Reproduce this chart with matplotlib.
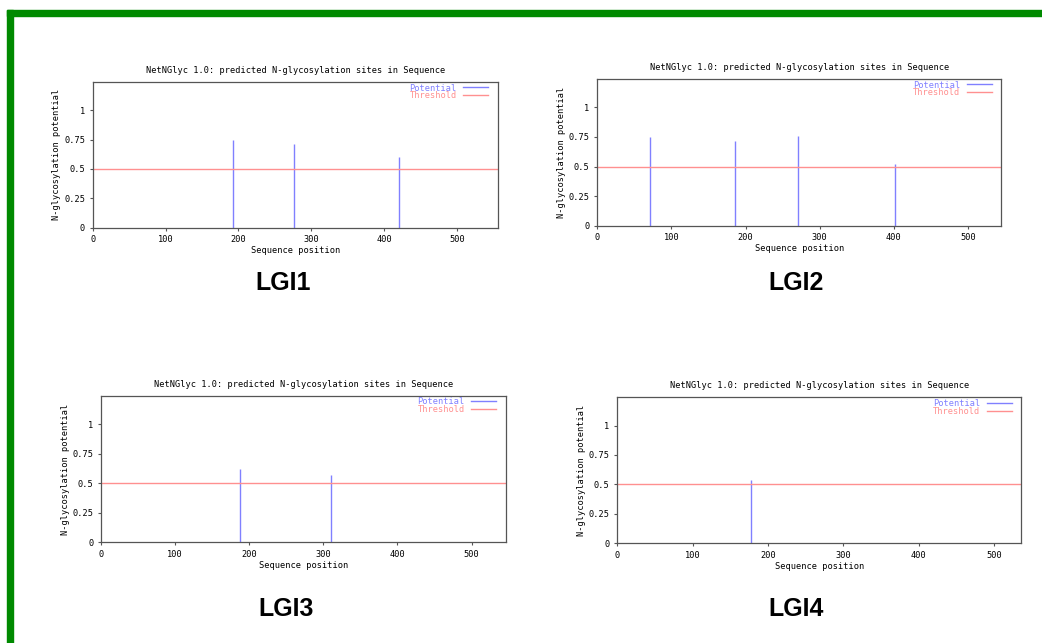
import matplotlib
matplotlib.use("Agg")
import matplotlib.pyplot as plt
from matplotlib.lines import Line2D
from matplotlib.patches import Rectangle

# ---- data ----
panel_names = ["LGI1", "LGI2", "LGI3", "LGI4"]
seq_lengths = [556, 545, 546, 536]
lgi1_pos = [192, 277, 421]
lgi1_val = [0.75, 0.71, 0.60]
lgi2_pos = [71, 186, 271, 402]
lgi2_val = [0.75, 0.72, 0.756, 0.524]
lgi3_pos = [188, 310]
lgi3_val = [0.62, 0.573]
lgi4_pos = [177]
lgi4_val = [0.534]
threshold = 0.5
y_ticks = [0, 0.25, 0.5, 0.75, 1]
y_tick_labels = ["0", "0.25", "0.5", "0.75", "1"]
x_ticks = [0, 100, 200, 300, 400, 500]
title_text = "NetNGlyc 1.0: predicted N-glycosylation sites in Sequence"
xlabel_text = "Sequence position"
ylabel_text = "N-glycosylation potential"

positions = [lgi1_pos, lgi2_pos, lgi3_pos, lgi4_pos]
values = [lgi1_val, lgi2_val, lgi3_val, lgi4_val]

W, H = 1042, 643
fig = plt.figure(figsize=(W / 100, H / 100), dpi=100)

# green frame (top and left)
fig.patches.append(Rectangle((7 / W, 0), 6 / W, 1 - 10 / H, transform=fig.transFigure,
                             color="#008a00", zorder=0))
fig.patches.append(Rectangle((7 / W, 1 - 16 / H), 1 - 7 / W, 6 / H, transform=fig.transFigure,
                             color="#008a00", zorder=0))

# axes boxes in pixels: left, top, right, bottom
boxes = [(92.7, 82, 497.7, 227.7),
         (597.3, 79, 1001.3, 225.7),
         (101, 396, 505.7, 542.3),
         (617.3, 397.3, 1021.3, 543.3)]
label_centers = [(283, 283), (796, 282.5), (286, 609), (796, 609)]

blue = "#8080ff"
red = "#ff9090"
mono = "DejaVu Sans Mono"
fs = 6.2

for i in range(4):
    l, t, r, b = boxes[i]
    ax = fig.add_axes([l / W, 1 - b / H, (r - l) / W, (b - t) / H])
    ax.vlines(positions[i], 0, values[i], color=blue, lw=1.0)
    ax.axhline(threshold, color=red, lw=1.0)
    ax.set_xlim(0, seq_lengths[i])
    ax.set_ylim(0, 1.24)
    ax.set_yticks(y_ticks)
    ax.set_yticklabels(y_tick_labels)
    ax.set_xticks(x_ticks)
    ax.set_xticklabels([str(v) for v in x_ticks])
    ax.tick_params(labelsize=fs, length=2.5, width=0.8, color="#555555", pad=3)
    for lab in ax.get_xticklabels() + ax.get_yticklabels():
        lab.set_family(mono)
    for s in ax.spines.values():
        s.set_color("#555555")
        s.set_linewidth(0.9)
    ax.set_title(title_text, fontsize=fs, family=mono, pad=6.5)
    ax.set_xlabel(xlabel_text, fontsize=fs, family=mono, labelpad=1.5)
    ax.set_ylabel(ylabel_text, fontsize=fs, family=mono, labelpad=2)
    handles = [Line2D([], [], color=blue, lw=1.0), Line2D([], [], color=red, lw=1.0)]
    aw, ah = r - l, b - t
    ax.legend(handles, ["Potential", "Threshold"], loc="upper right", frameon=False,
              bbox_to_anchor=(1 - 9.5 / aw, 1 - 1.5 / ah),
              markerfirst=False, prop={"family": mono, "size": fs},
              labelcolor="linecolor", handlelength=2.9, handletextpad=0.75,
              borderaxespad=0.0, borderpad=0.0, labelspacing=-0.12)
    cx, cy = label_centers[i]
    fig.text(cx / W, 1 - cy / H, panel_names[i], fontsize=18, fontweight="bold",
             family="Liberation Sans", ha="center", va="center")

fig.savefig("out.png", dpi=100, facecolor="white")
